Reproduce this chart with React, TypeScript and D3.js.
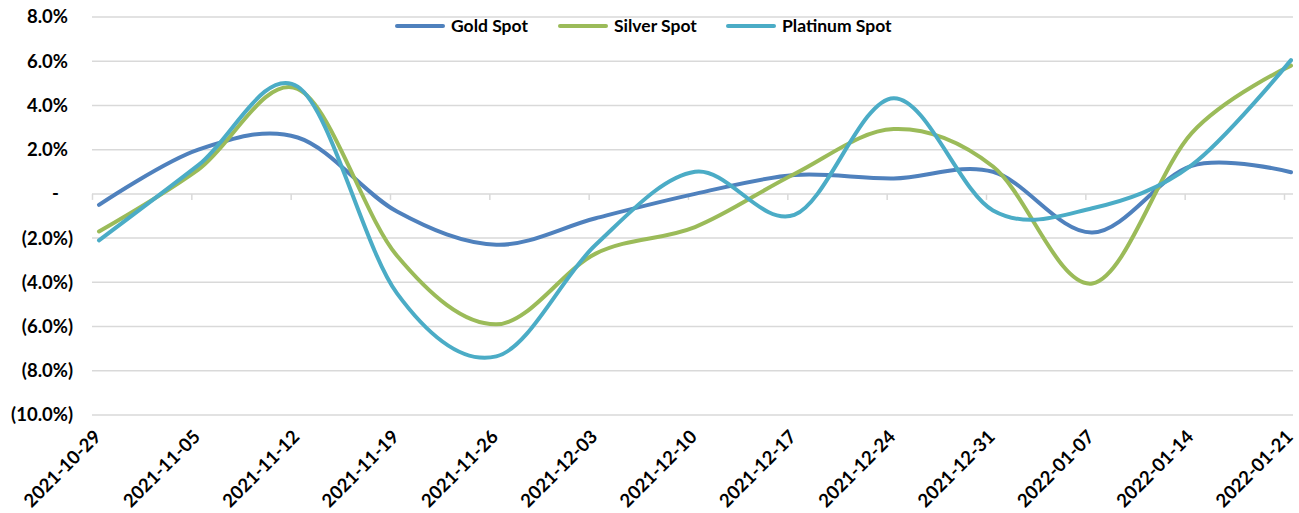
import React from "react";
import * as d3 from "d3";

const categories = [
  "2021-10-29", "2021-11-05", "2021-11-12", "2021-11-19", "2021-11-26",
  "2021-12-03", "2021-12-10", "2021-12-17", "2021-12-24", "2021-12-31",
  "2022-01-07", "2022-01-14", "2022-01-21",
];
const goldSpot = [-0.5, 2.0, 2.55, -0.8, -2.3, -1.1, 0.0, 0.85, 0.7, 1.0, -1.75, 1.27, 0.98];
const silverSpot = [-1.7, 1.1, 4.75, -2.8, -5.9, -2.7, -1.5, 0.9, 2.93, 1.24, -4.05, 2.75, 5.8];
const platinumSpot = [-2.1, 1.3, 4.85, -4.5, -7.35, -2.3, 1.0, -0.95, 4.33, -0.75, -0.65, 1.3, 6.05];
const yTicks = [8, 6, 4, 2, 0, -2, -4, -6, -8, -10];

const seriesNames = ["Gold Spot", "Silver Spot", "Platinum Spot"];
const seriesColors = ["#4f81bd", "#9bbb59", "#4bacc6"];

const W = 1299;
const H = 513;
const FONT = "Lato, 'Open Sans', sans-serif";

function fmt(v: number): string {
  if (v === 0) return "-";
  const s = Math.abs(v).toFixed(1) + "%";
  return v < 0 ? `(${s})` : s;
}

export default function App() {
  const x = d3.scalePoint<string>().domain(categories).range([99, 1291]);
  const y = d3.scaleLinear().domain([-10, 8]).range([415, 17]);
  const allSeries = [goldSpot, silverSpot, platinumSpot];
  const line = d3
    .line<number>()
    .x((_, i) => x(categories[i]) as number)
    .y((d) => y(d))
    .curve(d3.curveCatmullRom.alpha(0));

  const tickOffset = -6.5;
  const legendX = [397, 560, 728];

  return (
    <svg
      width={W}
      height={H}
      style={{ position: "absolute", left: 0, top: 0, background: "#fff" }}
      fontFamily={FONT}
    >
      {yTicks.map((t) => (
        <line
          key={"g" + t}
          x1={92}
          x2={1293}
          y1={y(t)}
          y2={y(t)}
          stroke="#d9d9d9"
          strokeWidth={1.5}
        />
      ))}
      {categories.map((c) => (
        <line
          key={"t" + c}
          x1={(x(c) as number) + tickOffset}
          x2={(x(c) as number) + tickOffset}
          y1={y(0)}
          y2={y(0) + 6}
          stroke="#d9d9d9"
          strokeWidth={1.5}
        />
      ))}
      {yTicks.map((t) => (
        <text
          key={"yl" + t}
          x={t === 0 ? 59 : t < 0 ? 73 : 68}
          y={y(t)}
          dy="0.35em"
          textAnchor="end"
          fontSize={18.5}
          fontWeight={700}
          fill="#000"
        >
          {fmt(t)}
        </text>
      ))}
      {categories.map((c) => {
        const px = (x(c) as number) + 3;
        const py = 438;
        return (
          <text
            key={"xl" + c}
            transform={`translate(${px},${py}) rotate(-45)`}
            textAnchor="end"
            fontSize={18.5}
            fontWeight={700}
            fill="#000"
          >
            {c}
          </text>
        );
      })}
      {allSeries.map((s, i) => (
        <path
          key={"s" + i}
          d={line(s) || ""}
          fill="none"
          stroke={seriesColors[i]}
          strokeWidth={4}
          strokeLinecap="round"
          strokeLinejoin="round"
        />
      ))}
      {seriesNames.map((n, i) => (
        <g key={"lg" + n}>
          <line
            x1={legendX[i]}
            x2={legendX[i] + 46}
            y1={26}
            y2={26}
            stroke={seriesColors[i]}
            strokeWidth={4}
            strokeLinecap="round"
          />
          <text
            x={legendX[i] + 54}
            y={26}
            dy="0.35em"
            fontSize={17.5}
            fontWeight={700}
            fill="#000"
          >
            {n}
          </text>
        </g>
      ))}
    </svg>
  );
}
